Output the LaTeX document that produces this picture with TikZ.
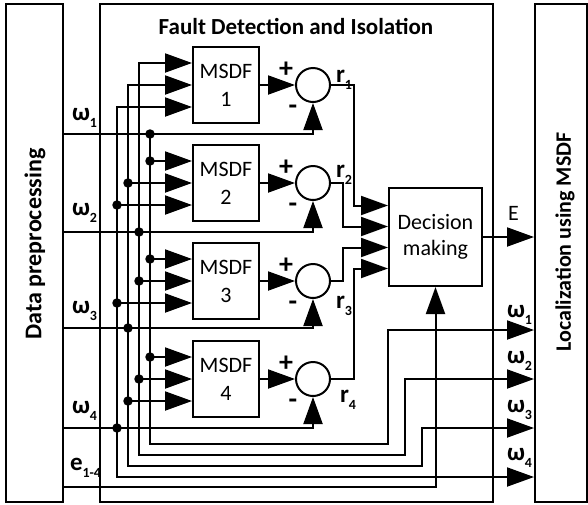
\documentclass[tikz,border=0pt]{standalone}
\usepackage{fontspec}
\setmainfont{Carlito}
\usetikzlibrary{arrows.meta,calc}
\newcommand{\lsub}[2]{#1\raisebox{-7.5pt}{\fontsize{14}{14}\selectfont #2}}
\begin{document}
\begin{tikzpicture}[x=1pt,y=-1pt,line width=2pt,line join=miter,
  arr/.style={-{Triangle[length=27pt,width=19pt]}},
  arrb/.style={{Triangle[length=27pt,width=19pt]}-{Triangle[length=27pt,width=19pt]}},
  panel/.style={draw,rectangle,inner sep=0pt},
  blk/.style={draw,rectangle,inner sep=0pt,align=center,font=\fontsize{22}{28}\selectfont},
  sumc/.style={draw,circle,minimum size=34pt,inner sep=0pt},
  jdot/.style={circle,fill=black,minimum size=9.5pt,inner sep=0pt},
  sym/.style={inner sep=0pt,font=\bfseries\fontsize{28}{28}\selectfont},
  lab/.style={inner sep=0pt,anchor=base west,font=\bfseries\fontsize{25}{25}\selectfont},
  sidetext/.style={rotate=90,inner sep=0pt,font=\bfseries\fontsize{22}{22}\selectfont},
]
\useasboundingbox (0,0) rectangle (588,504);

% panels
\node[panel,minimum width=57pt,minimum height=498pt] (dp) at (34.5,253) {};
\node[panel,minimum width=393pt,minimum height=498pt] (fdi) at (296.5,253) {};
\node[panel,minimum width=52pt,minimum height=498pt] (loc) at (561,253) {};
\node[anchor=base,inner sep=0pt,font=\bfseries\fontsize{23}{23}\selectfont] (title) at (296,34) {Fault Detection and Isolation};
\node[sidetext,font=\bfseries\fontsize{24}{24}\selectfont] (dptext) at (35,244) {Data preprocessing};
\node[sidetext] (loctext) at (565,242) {Localization using MSDF};

% blocks
\foreach \i/\y in {1/85,2/183,3/281,4/379} {
  \node[blk,minimum width=66pt,minimum height=76pt] (m\i) at (226,\y) {MSDF\\\i};
  \node[sumc] (s\i) at (313,\y) {};
  \coordinate (m\i t) at ([yshift=22pt]m\i.west);
  \coordinate (m\i c) at (m\i.west);
  \coordinate (m\i b) at ([yshift=-22pt]m\i.west);
}
\node[blk,minimum width=93pt,minimum height=98pt,font=\fontsize{22}{26}\selectfont] (dm) at (435.5,237) {Decision\\making};
\coordinate (d1) at ([yshift=31.5pt]dm.west);
\coordinate (d2) at ([yshift=10.5pt]dm.west);
\coordinate (d3) at ([yshift=-10.5pt]dm.west);
\coordinate (d4) at ([yshift=-31.5pt]dm.west);

% bus positions
\coordinate (bA) at (117,0);
\coordinate (bB) at (128,0);
\coordinate (bC) at (139,0);
\coordinate (bD) at (150,0);

% omega lines to the summing junctions
\draw[arr] (dp.east |- 0,134) -| (s1.south);
\draw[arr] (dp.east |- 0,232) -| (s2.south);
\draw[arr] (dp.east |- 0,328) -| (s3.south);
\draw[arr] (dp.east |- 0,428) -| (s4.south);

% buses
\draw[arr] (bD |- 0,134) |- (388,444) |- (loc.west |- 0,330);
\draw[arrb] (m1t) -| (139,455) -| (405,379) -- (loc.west |- 0,379);
\draw[arrb] (m1c) -| (128,466) -| (422,428) -- (loc.west |- 0,428);
\draw[arrb] (m1b) -| (117,477) -- (loc.west |- 0,477);

% taps
\foreach \m/\p/\b in {2/t/bD,2/c/bB,2/b/bA,3/t/bD,3/c/bC,3/b/bA,4/t/bD,4/c/bC,4/b/bB} {
  \draw[arr] (m\m\p -| \b) -- (m\m\p);
  \node[jdot] at (m\m\p -| \b) {};
}
\node[jdot] at (bD |- 0,134) {};
\node[jdot] at (bC |- 0,232) {};
\node[jdot] at (bB |- 0,328) {};
\node[jdot] at (bA |- 0,428) {};

% e line
\draw[arr] (dp.east |- 0,487) -| (dm.south);

% MSDF to sums
\foreach \i in {1,...,4} \draw[arr] (m\i) -- (s\i);

% residuals
\draw[arr] (s1.east) -- ++(23,0) |- (d1);
\draw[arr] (s2.east) -- ++(12,0) |- (d2);
\draw[arr] (s3.east) -- ++(12,0) |- (d3);
\draw[arr] (s4.east) -- ++(23,0) |- (d4);

% E output
\draw[arr] (dm.east) -- (dm.east -| loc.west);

% signs
\foreach \y in {85,183,281,379} {
  \node[sym] at (286,\y-15) {+};
  \node[sym] at (293,\y+25) {-};
}

% labels
\node[lab] at (335,82) {\lsub{r}{1}};
\node[lab] at (335,177) {\lsub{r}{2}};
\node[lab] at (335,308) {\lsub{r}{3}};
\node[lab] at (339,402) {\lsub{r}{4}};

\node[lab] at (71,120) {\lsub{ω}{1}};
\node[lab] at (71,215) {\lsub{ω}{2}};
\node[lab] at (71,313) {\lsub{ω}{3}};
\node[lab] at (71,413) {\lsub{ω}{4}};
\node[lab] at (69,470) {\lsub{e}{1-4}};

\node[lab] at (506,317) {\lsub{ω}{1}};
\node[lab] at (506,363) {\lsub{ω}{2}};
\node[lab] at (506,412) {\lsub{ω}{3}};
\node[lab] at (506,460) {\lsub{ω}{4}};
\node[lab,font=\fontsize{22}{22}\selectfont] at (507,220) {E};
\end{tikzpicture}
\end{document}
